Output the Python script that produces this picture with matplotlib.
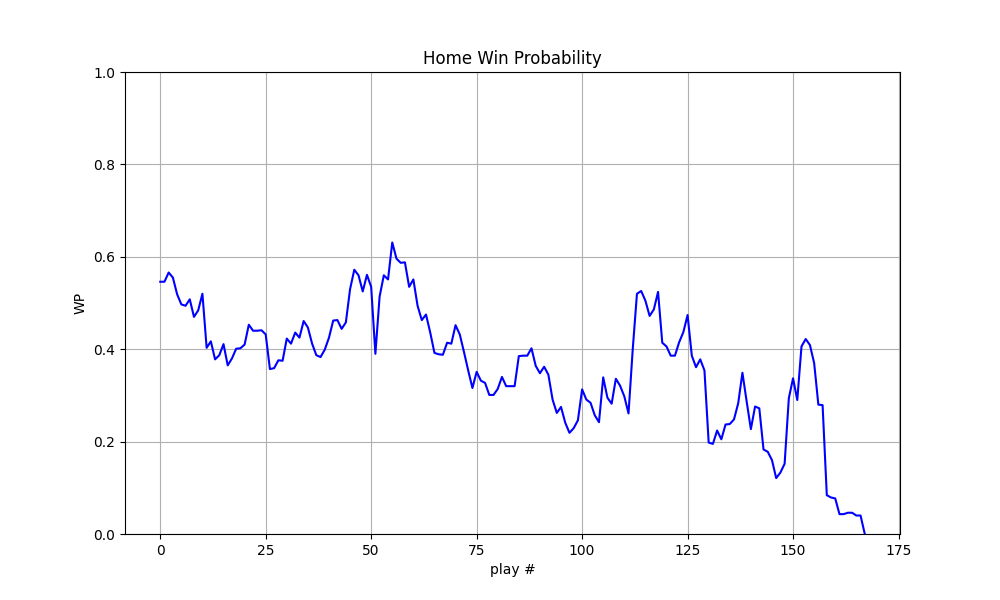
import matplotlib
matplotlib.use("Agg")
import matplotlib.pyplot as plt

# win probability per play
wp = [
    0.546, 0.546, 0.566, 0.555, 0.519, 0.497, 0.494, 0.508, 0.470, 0.484,
    0.520, 0.403, 0.417, 0.378, 0.387, 0.411, 0.365, 0.380, 0.401, 0.402,
    0.410, 0.453, 0.440, 0.440, 0.441, 0.432, 0.357, 0.359, 0.376, 0.375,
    0.423, 0.412, 0.436, 0.425, 0.461, 0.447, 0.412, 0.387, 0.383, 0.399,
    0.425, 0.462, 0.463, 0.444, 0.458, 0.530, 0.572, 0.560, 0.525, 0.561,
    0.535, 0.390, 0.514, 0.560, 0.551, 0.631, 0.596, 0.587, 0.588, 0.535,
    0.551, 0.494, 0.463, 0.475, 0.436, 0.392, 0.389, 0.388, 0.414, 0.412,
    0.452, 0.432, 0.394, 0.354, 0.316, 0.351, 0.332, 0.327, 0.301, 0.301,
    0.314, 0.340, 0.320, 0.320, 0.320, 0.385, 0.386, 0.386, 0.402, 0.364,
    0.348, 0.362, 0.345, 0.291, 0.262, 0.275, 0.241, 0.219, 0.229, 0.246,
    0.313, 0.291, 0.284, 0.257, 0.242, 0.339, 0.295, 0.282, 0.336, 0.321,
    0.298, 0.261, 0.400, 0.520, 0.526, 0.505, 0.472, 0.486, 0.524, 0.414,
    0.406, 0.386, 0.386, 0.415, 0.437, 0.474, 0.386, 0.361, 0.378, 0.354,
    0.198, 0.195, 0.224, 0.205, 0.237, 0.238, 0.248, 0.283, 0.349, 0.287,
    0.227, 0.276, 0.272, 0.183, 0.178, 0.160, 0.121, 0.133, 0.152, 0.294,
    0.337, 0.290, 0.406, 0.422, 0.409, 0.370, 0.280, 0.279, 0.084, 0.079,
    0.077, 0.043, 0.043, 0.046, 0.046, 0.040, 0.040, 0.000,
]
plays = list(range(len(wp)))

fig, ax = plt.subplots(figsize=(10, 6), dpi=100)
ax.plot(plays, wp, color="blue")
ax.set_ylim(0, 1)
ax.set_title("Home Win Probability")
ax.set_xlabel("play #")
ax.set_ylabel("WP")
ax.grid(True)
fig.savefig("out.png")
plt.close(fig)
